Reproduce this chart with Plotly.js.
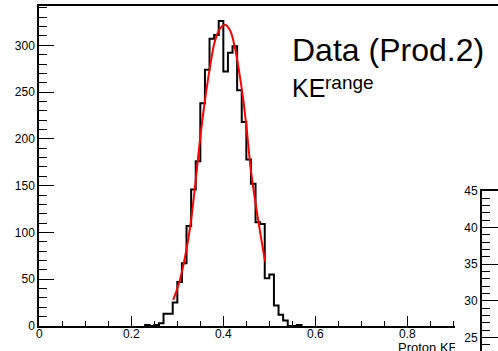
<!DOCTYPE html>
<html><head><meta charset="utf-8">
<script src="https://cdn.plot.ly/plotly-3.0.1.min.js"></script>
<style>
html,body{margin:0;padding:0;background:#fff;overflow:hidden;}
#main{position:absolute;left:0;top:0;width:498px;height:351px;}
#pad2{position:absolute;left:455px;top:180px;width:43px;height:171px;}
</style>
</head><body>
<div id="main"></div>
<div id="pad2"></div>
<script>
// Histogram: lower bin edges (GeV) and counts, bin width 0.01
const binLow = [0.23,0.24,0.25,0.26,0.27,0.28,0.29,0.30,0.31,0.32,0.33,0.34,0.35,0.36,0.37,0.38,0.39,0.40,0.41,0.42,0.43,0.44,0.45,0.46,0.47,0.48,0.49,0.50,0.51,0.52,0.53,0.54,0.55,0.56];
const counts = [1,0,1,3,13,13,25,47,67,107,146,176,238,274,307,311,326,272,292,299,252,218,178,152,111,109,51,55,22,12,6,0,0,1];
const binWidth = 0.01;
// Gaussian fit curve
const fitX = [0.291,0.300,0.311,0.3276,0.340,0.349,0.360,0.371,0.382,0.393,0.404,0.4146,0.425,0.435,0.4435,0.451,0.460,0.4726,0.4907];
const fitY = [28,40,60,105,156,198,241,277,305,318,322,316,298,270,241,209,166,123,69];
// Tick labels
const xTicks = [0,0.2,0.4,0.6,0.8];
const xTickText = ["0","0.2","0.4","0.6","0.8"];
const yTicks = [0,50,100,150,200,250,300];
const y2Ticks = [25,30,35,40,45];

// Build step outline from the bins
const hx = [binLow[0]], hy = [0];
for (let i=0;i<binLow.length;i++){ hx.push(binLow[i]); hy.push(counts[i]); }
hx.push(binLow[binLow.length-1]+binWidth); hy.push(0);

const font = {family:"Liberation Sans, Arial, Helvetica, sans-serif", size:12, color:"#000"};

const traces = [
  {x:hx, y:hy, type:"scatter", mode:"lines", line:{shape:"hv", color:"#000", width:2}, hoverinfo:"skip"},
  {x:fitX, y:fitY, type:"scatter", mode:"lines", line:{shape:"spline", color:"#ff0000", width:2}, hoverinfo:"skip"}
];

const layout = {
  width:498, height:351,
  margin:{l:0,r:0,t:6,b:0},
  paper_bgcolor:"#fff", plot_bgcolor:"#fff",
  showlegend:false,
  font:font,
  xaxis:{domain:[39.3/498,1], range:[0,0.997], showgrid:false, zeroline:false,
    showline:true, linewidth:2, linecolor:"#000", mirror:true,
    tickvals:xTicks, ticktext:xTickText, ticks:"inside", ticklen:10, tickwidth:1, tickcolor:"#000",
    ticklabelstandoff:-4,
    minor:{dtick:0.05, tick0:0, ticks:"inside", ticklen:5, tickwidth:1, tickcolor:"#000", showgrid:false},
    tickfont:font, automargin:false},
  yaxis:{domain:[25/345,1], range:[0,342], showgrid:false, zeroline:false,
    showline:true, linewidth:2, linecolor:"#000", mirror:false,
    tickvals:yTicks, ticks:"inside", ticklen:15, tickwidth:1, tickcolor:"#000",
    minor:{dtick:10, tick0:0, ticks:"inside", ticklen:8, tickwidth:1, tickcolor:"#000", showgrid:false},
    tickfont:font, automargin:false},
  annotations:[
    {text:"Data (Prod.2)", xref:"paper", yref:"paper", x:291/498, y:(351-31)/345, xanchor:"left", yanchor:"top",
     showarrow:false, borderpad:0, font:{family:font.family, size:32, color:"#000"}},
    {text:"KE", xref:"paper", yref:"paper", x:291/498, y:(351-73)/345, xanchor:"left", yanchor:"top",
     showarrow:false, borderpad:0, font:{family:font.family, size:25, color:"#000"}},
    {text:"range", xref:"paper", yref:"paper", x:324/498, y:(351-71)/345, xanchor:"left", yanchor:"top",
     showarrow:false, borderpad:0, font:{family:font.family, size:19, color:"#000"}},
    {text:"Proton KE", xref:"paper", yref:"paper", x:397/498, y:(351-339)/345, xanchor:"left", yanchor:"top",
     showarrow:false, borderpad:0, font:{family:font.family, size:13, color:"#000"}}
  ]
};

Plotly.newPlot("main", traces, layout, {staticPlot:true, displayModeBar:false});

const layout2 = {
  width:43, height:171,
  margin:{l:27,r:0,t:11,b:0},
  paper_bgcolor:"#fff", plot_bgcolor:"#fff",
  showlegend:false, font:font,
  xaxis:{range:[0,1], side:"top", showline:true, linewidth:2, linecolor:"#000", showgrid:false, zeroline:false,
    ticks:"", showticklabels:false, automargin:false},
  yaxis:{range:[23.14,45], showline:true, linewidth:2, linecolor:"#000", showgrid:false, zeroline:false,
    tickvals:y2Ticks, ticks:"inside", ticklen:16, tickwidth:1, tickcolor:"#000",
    minor:{dtick:1, tick0:0, ticks:"inside", ticklen:8, tickwidth:1, tickcolor:"#000", showgrid:false},
    tickfont:font, automargin:false}
};
Plotly.newPlot("pad2", [{x:[], y:[], type:"scatter", mode:"lines"}], layout2, {staticPlot:true, displayModeBar:false});
</script>
</body></html>
